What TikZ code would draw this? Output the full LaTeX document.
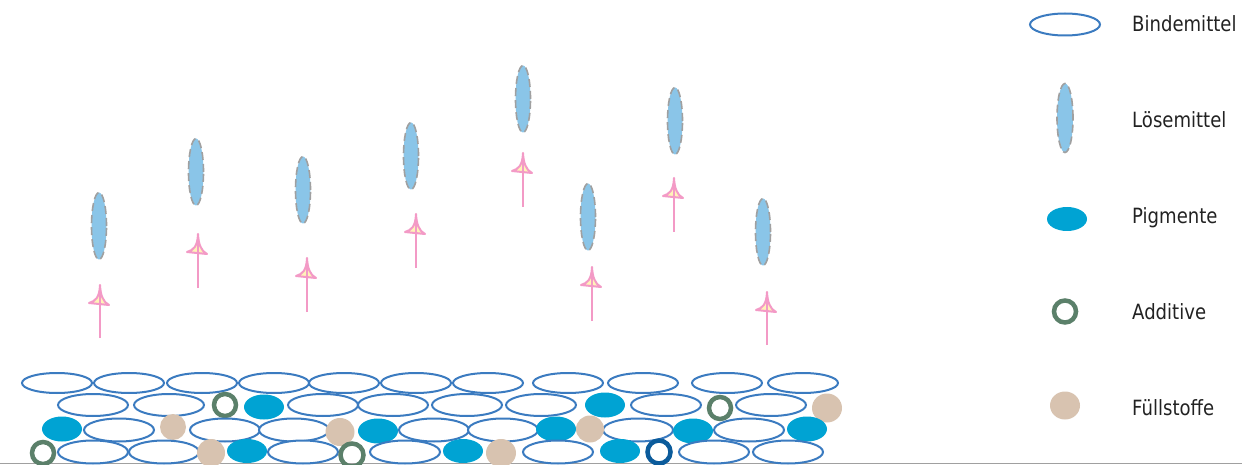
\documentclass[tikz,border=0pt]{standalone}
\usepackage{fontspec}
\newfontfamily\labfont[FakeStretch=0.86]{DejaVu Sans}
\definecolor{binder}{HTML}{3B7BC0}
\definecolor{pigm}{HTML}{00A3D3}
\definecolor{fuell}{HTML}{D8C3B0}
\definecolor{addgreen}{HTML}{5B806A}
\definecolor{adddark}{HTML}{0B5B9B}
\definecolor{loese}{HTML}{8AC5E8}
\definecolor{loeseline}{HTML}{A0A0A0}
\definecolor{arrowpink}{HTML}{F39AC6}
\definecolor{arrowfill}{HTML}{FFF3B8}
\definecolor{txt}{HTML}{222222}
\tikzset{
  bindstyle/.style={draw=binder,line width=2pt,fill=white},
  pigstyle/.style={fill=pigm},
  fuellstyle/.style={fill=fuell},
  addstyle/.style={draw=addgreen,line width=4.5pt},
  adddarkstyle/.style={draw=adddark,line width=4.5pt},
  loesestyle/.style={fill=loese,draw=loeseline,line width=1.6pt,dash pattern=on 8pt off 4pt},
  shaftstyle/.style={draw=arrowpink,line width=2pt},
  headstyle/.style={draw=arrowpink,fill=arrowfill,line width=2pt,line join=round},
  labstyle/.style={anchor=base west,inner sep=0pt,text=txt,font=\labfont\fontsize{21}{24}\selectfont}
}
\begin{document}
\begin{tikzpicture}[x=1pt,y=-1pt]
\useasboundingbox (0,0) rectangle (1242,465);
% bottom line
\draw[loeseline,line width=1.6pt] (0,463.5) -- (1242,463.5);
% row 1 binder
\foreach \x in {57,129,202,274,344,416,488,568,643,727,803}
  \draw[bindstyle] (\x,383) ellipse [x radius=35pt,y radius=10pt];
% row 2
\foreach \x in {93,169,323,393,467,541,666,771}
  \draw[bindstyle] (\x,405) ellipse [x radius=35pt,y radius=11pt];
\fill[pigstyle] (264,407) ellipse [x radius=20pt,y radius=12.5pt];
\fill[pigstyle] (605,405) ellipse [x radius=20pt,y radius=12.5pt];
\draw[addstyle] (225,405) circle [radius=11pt];
\draw[addstyle] (720,408) circle [radius=11pt];
\fill[fuellstyle] (827,408) ellipse [x radius=15pt,y radius=14.5pt];
% row 3
\foreach \x in {119,225,294,434,503,638,749}
  \draw[bindstyle] (\x,430) ellipse [x radius=35pt,y radius=11.5pt];
\foreach \x/\y in {62/429,378/431,556/429,693/431,807/429}
  \fill[pigstyle] (\x,\y) ellipse [x radius=20pt,y radius=12.5pt];
\fill[fuellstyle] (173,427) ellipse [x radius=13pt,y radius=13pt];
\fill[fuellstyle] (340,432) ellipse [x radius=14.5pt,y radius=14pt];
\fill[fuellstyle] (590,429) ellipse [x radius=14pt,y radius=13.5pt];
% row 4
\foreach \x in {93,164,303,405,558,714,788}
  \draw[bindstyle] (\x,452) ellipse [x radius=35pt,y radius=11.5pt];
\foreach \x in {247,463,620}
  \fill[pigstyle] (\x,451) ellipse [x radius=20pt,y radius=12pt];
\fill[fuellstyle] (211,453) ellipse [x radius=14pt,y radius=14pt];
\fill[fuellstyle] (501,453) ellipse [x radius=15pt,y radius=14pt];
\draw[addstyle] (43,453) circle [radius=11pt];
\draw[addstyle] (352,455) circle [radius=11.5pt];
\draw[adddarkstyle] (659,452) circle [radius=11.5pt];
% solvent molecules
\foreach \x/\y in {99/226,196/172,303/190,411/156,523/99,588/217,675/121,763/232}
  \draw[loesestyle] (\x,\y) ellipse [x radius=7.5pt,y radius=33.5pt];
% arrows
\foreach \x/\t/\b in {100/285/338,198/234/288,307/258/312,416/214/268,523/153/207,592/267/321,674/178/232,767/292/345}{
  \draw[shaftstyle] (\x,\b) -- (\x,\t);
  \draw[headstyle] (\x,\t) .. controls (\x-0.5,\t+12) and (\x-4,\t+16) .. (\x-11,\t+18)
     -- (\x+9,\t+20) .. controls (\x+3,\t+17) and (\x+0.5,\t+10) .. cycle;
  \draw[shaftstyle] (\x,\t+21) -- (\x,\t);
}
% legend
\draw[bindstyle] (1065,24.5) ellipse [x radius=35pt,y radius=11pt];
\draw[loesestyle] (1065,118) ellipse [x radius=8pt,y radius=34.5pt];
\fill[pigstyle] (1067,219) ellipse [x radius=20pt,y radius=12pt];
\draw[addstyle] (1065,311.5) circle [radius=11pt];
\fill[fuellstyle] (1065,405.5) ellipse [x radius=15pt,y radius=14pt];
\node[labstyle] (lbind) at (1132,32) {Bindemittel};
\node[labstyle] (lloes) at (1132,128) {Lösemittel};
\node[labstyle] (lpig) at (1132,223) {Pigmente};
\node[labstyle] (ladd) at (1132,319) {Additive};
\node[labstyle] (lfuell) at (1132,415) {Füllstoffe};
\end{tikzpicture}
\end{document}
